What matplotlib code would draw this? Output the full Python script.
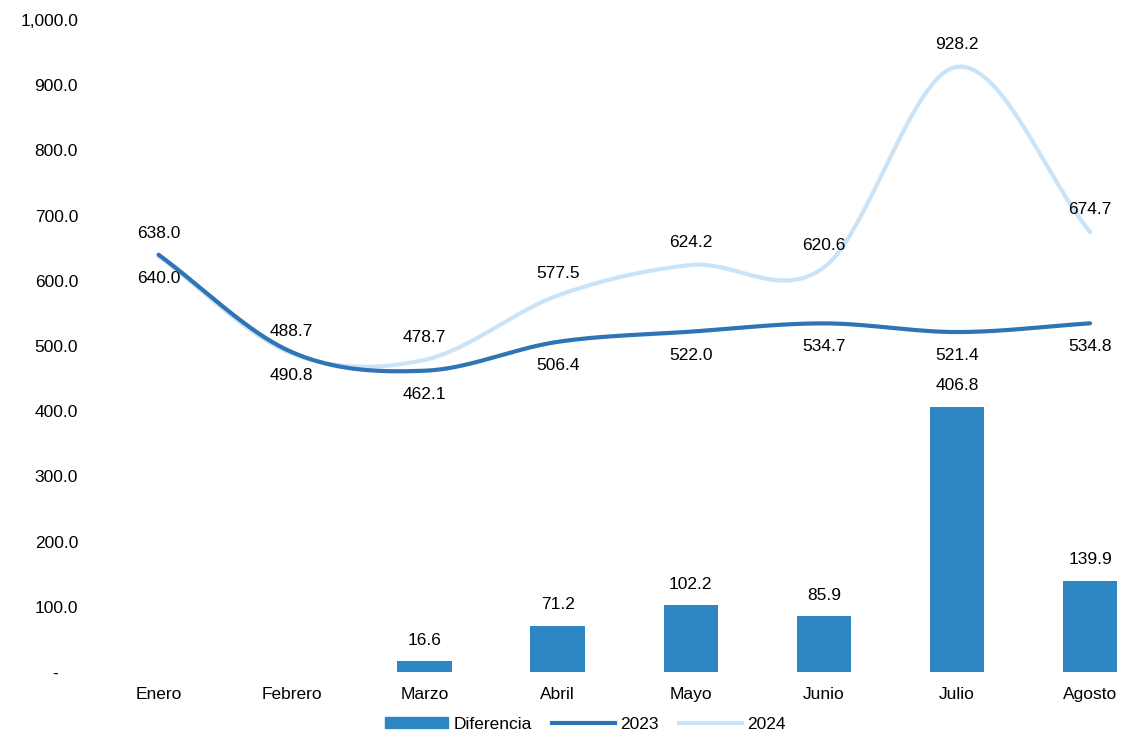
import numpy as np
import matplotlib
matplotlib.use("Agg")
import matplotlib.pyplot as plt
from matplotlib.patches import Patch
from matplotlib.lines import Line2D
from matplotlib.ticker import FuncFormatter

plt.rcParams["font.family"] = ["Liberation Sans", "DejaVu Sans"]

# Datos
meses = ["Enero", "Febrero", "Marzo", "Abril", "Mayo", "Junio", "Julio", "Agosto"]
serie_2023 = [640.0, 490.8, 462.1, 506.4, 522.0, 534.7, 521.4, 534.8]
serie_2024 = [638.0, 488.7, 478.7, 577.5, 624.2, 620.6, 928.2, 674.7]
diferencia = [-2.0, -2.1, 16.6, 71.2, 102.2, 85.9, 406.8, 139.9]

c_bar = "#2e86c4"
c_2023 = "#2f75b5"
c_2024 = "#cbe3f6"


def suavizar(x, y, n=40):
    # curva Catmull-Rom para imitar la linea suavizada de Excel
    x = np.asarray(x, float)
    y = np.asarray(y, float)
    px = np.concatenate([[2 * x[0] - x[1]], x, [2 * x[-1] - x[-2]]])
    py = np.concatenate([[2 * y[0] - y[1]], y, [2 * y[-1] - y[-2]]])
    xs, ys = [], []
    t = np.linspace(0, 1, n)
    for i in range(1, len(px) - 2):
        for p, out in ((px, xs), (py, ys)):
            p0, p1, p2, p3 = p[i - 1], p[i], p[i + 1], p[i + 2]
            out.extend(0.5 * (2 * p1 + (-p0 + p2) * t
                              + (2 * p0 - 5 * p1 + 4 * p2 - p3) * t ** 2
                              + (-p0 + 3 * p1 - 3 * p2 + p3) * t ** 3))
    return np.array(xs), np.array(ys)


fig = plt.figure(figsize=(11.26, 7.4), dpi=100)
ax = fig.add_axes([92 / 1126, 68 / 740, 1 - 92 / 1126, 652 / 740])

x = np.arange(len(meses))
ax.bar(x, diferencia, width=0.41, color=c_bar, zorder=2)

sx, sy = suavizar(x, serie_2024)
ax.plot(sx, sy, color=c_2024, lw=3, zorder=3, solid_capstyle="round")
sx, sy = suavizar(x, serie_2023)
ax.plot(sx, sy, color=c_2023, lw=3, zorder=4, solid_capstyle="round")

fs = 12.5
for i in range(len(meses)):
    ax.annotate(f"{serie_2024[i]:.1f}", (x[i], serie_2024[i]), xytext=(0, 16),
                textcoords="offset points", ha="center", va="center", fontsize=fs)
    ax.annotate(f"{serie_2023[i]:.1f}", (x[i], serie_2023[i]), xytext=(0, -17),
                textcoords="offset points", ha="center", va="center", fontsize=fs)
    if diferencia[i] > 0:
        ax.annotate(f"{diferencia[i]:.1f}", (x[i], diferencia[i]), xytext=(0, 15),
                    textcoords="offset points", ha="center", va="center", fontsize=fs)

ax.set_xlim(-0.5, 7.27)
ax.set_ylim(0, 1000)
ax.set_yticks(np.arange(0, 1001, 100))
ax.yaxis.set_major_formatter(FuncFormatter(lambda v, p: "-    " if v == 0 else f"{v:,.1f}"))
ax.set_xticks(x)
ax.set_xticklabels(meses)
ax.tick_params(axis="both", length=0, labelsize=fs)
ax.tick_params(axis="x", pad=11)
ax.tick_params(axis="y", pad=10)
for s in ax.spines.values():
    s.set_visible(False)

handles = [Patch(color=c_bar, label="Diferencia"),
           Line2D([], [], color=c_2023, lw=3, label="2023"),
           Line2D([], [], color=c_2024, lw=3, label="2024")]
fig.legend(handles=handles, loc="lower center", bbox_to_anchor=(0.52, -0.01),
           ncol=3, frameon=False, fontsize=fs, handlelength=3.6, handleheight=0.6,
           columnspacing=1.2, handletextpad=0.3)

fig.savefig("out.png", dpi=100)
